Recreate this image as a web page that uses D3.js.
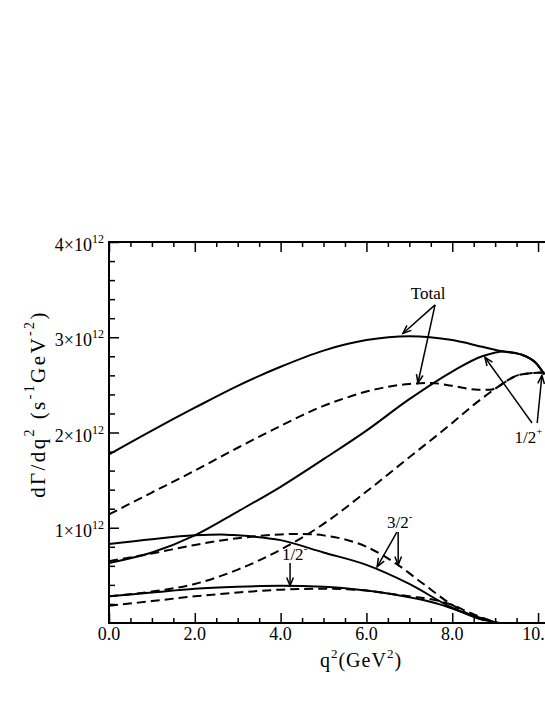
<!DOCTYPE html>
<html><head><meta charset="utf-8">
<script src="https://cdn.jsdelivr.net/npm/d3@7"></script>
<style>
body{margin:0;background:#fff}
svg{display:block}
text{font-family:"Liberation Serif","Times New Roman","DejaVu Serif",serif;fill:#000}
</style>
</head><body>
<svg id="c" width="545" height="705"></svg>
<script>
// ---- data (q^2 in GeV^2, dGamma/dq^2 in units of 1e12 s^-1 GeV^-2) ----
const totalSolid = [[0,1.77],[1,2.02],[2,2.26],[3,2.49],[4,2.69],[5,2.86],[6,2.97],[7,3.01],[8,2.97],[8.7,2.90],[9.2,2.85],[9.6,2.82],[9.95,2.73],[10.15,2.61]];
const totalDashed = [[0,1.14],[1,1.37],[2,1.60],[3,1.84],[4,2.07],[4.5,2.18],[5,2.28],[5.5,2.36],[6,2.43],[6.5,2.48],[7,2.51],[7.5,2.52],[8,2.49],[8.6,2.45],[8.9,2.45],[9.1,2.49],[9.3,2.55],[9.6,2.61],[10.15,2.63]];
const halfPlusSolid = [[0,0.63],[1,0.74],[2,0.92],[3,1.17],[4,1.43],[5,1.72],[6,2.02],[7,2.35],[8,2.64],[8.7,2.80],[9.2,2.85],[9.6,2.82],[9.95,2.73],[10.15,2.61]];
const halfPlusDashed = [[0,0.28],[1,0.33],[2,0.41],[3,0.56],[4,0.77],[5,1.04],[6,1.38],[7,1.74],[8,2.10],[8.5,2.29],[9.1,2.49],[9.3,2.55],[9.6,2.61],[10.15,2.63]];
const threeHalfSolid = [[0,0.83],[1,0.88],[2,0.92],[2.6,0.93],[3,0.92],[4,0.87],[5,0.74],[6,0.61],[7,0.41],[8,0.16],[8.6,0.05],[9.1,0]];
const threeHalfDashed = [[0,0.65],[1,0.73],[2,0.82],[3,0.89],[4,0.93],[4.5,0.935],[5,0.92],[6,0.80],[6.7,0.62],[7.3,0.42],[8,0.19],[8.6,0.05],[9.05,0]];
const halfMinusSolid = [[0,0.28],[1,0.32],[2,0.36],[3,0.38],[4,0.39],[5,0.38],[6,0.34],[6.5,0.31],[7,0.27],[7.6,0.21],[8.4,0.09],[9.05,0]];
const halfMinusDashed = [[0,0.18],[1,0.23],[2,0.28],[3,0.32],[4,0.35],[5,0.36],[6,0.34],[6.5,0.31],[7,0.28],[7.6,0.24],[8,0.19],[8.4,0.11],[9.05,0]];

const xMajor = [0,2,4,6,8,10];
const xMajorLabels = ["0.0","2.0","4.0","6.0","8.0","10.0"];
const xMinor = [0.5,1,1.5,2.5,3,3.5,4.5,5,5.5,6.5,7,7.5,8.5,9,9.5,10.5];
const yMajor = [1,2,3,4];
const yMajorLabels = ["1\u00d710","2\u00d710","3\u00d710","4\u00d710"];
const yExponent = "12";
const yMinor = [0.2,0.4,0.6,0.8,1.2,1.4,1.6,1.8,2.2,2.4,2.6,2.8,3.2,3.4,3.6,3.8];

const series = [
  {d: totalSolid, dash: false},
  {d: totalDashed, dash: true},
  {d: halfPlusSolid, dash: false},
  {d: halfPlusDashed, dash: true},
  {d: threeHalfSolid, dash: false},
  {d: threeHalfDashed, dash: true},
  {d: halfMinusSolid, dash: false},
  {d: halfMinusDashed, dash: true}
];

// annotation arrows: [fromQ, fromV, toQ, toV]
const arrows = [
  [7.60,3.34, 6.85,3.04],
  [7.60,3.34, 7.20,2.52],
  [9.86,2.10, 8.76,2.79],
  [9.98,2.10, 10.09,2.60],
  [6.71,0.955, 6.25,0.59],
  [6.74,0.955, 6.74,0.61],
  [4.22,0.63, 4.22,0.39]
];
const notes = [
  {q:7.44, v:3.40, main:"Total", sup:"", anchor:"middle"},
  {q:9.45, v:1.89, main:"1/2", sup:"+", anchor:"start"},
  {q:6.48, v:1.00, main:"3/2", sup:"-", anchor:"start"},
  {q:4.03, v:0.66, main:"1/2", sup:"-", anchor:"start"}
];

// ---- drawing ----
const svg = d3.select("#c");
const x = d3.scaleLinear().domain([0,10.5]).range([109,559.5]);
const y = d3.scaleLinear().domain([0,4]).range([623,242]);

svg.append("rect")
  .attr("x", x(0)).attr("y", y(4))
  .attr("width", x(10.5)-x(0)).attr("height", y(0)-y(4))
  .attr("fill","none").attr("stroke","#000").attr("stroke-width",2);

function styleAxis(g){
  g.select(".domain").remove();
  g.selectAll("line").attr("stroke","#000").attr("stroke-width",1.5);
}
svg.append("g").attr("transform",`translate(0,${y(0)})`)
  .call(d3.axisBottom(x).tickValues(xMajor).tickSize(-10).tickFormat("")).call(styleAxis);
svg.append("g").attr("transform",`translate(0,${y(0)})`)
  .call(d3.axisBottom(x).tickValues(xMinor).tickSize(-5).tickFormat("")).call(styleAxis);
svg.append("g").attr("transform",`translate(0,${y(4)})`)
  .call(d3.axisTop(x).tickValues(xMajor).tickSize(-10).tickFormat("")).call(styleAxis);
svg.append("g").attr("transform",`translate(0,${y(4)})`)
  .call(d3.axisTop(x).tickValues(xMinor).tickSize(-5).tickFormat("")).call(styleAxis);
svg.append("g").attr("transform",`translate(${x(0)},0)`)
  .call(d3.axisLeft(y).tickValues(yMajor).tickSize(-10).tickFormat("")).call(styleAxis);
svg.append("g").attr("transform",`translate(${x(0)},0)`)
  .call(d3.axisLeft(y).tickValues(yMinor).tickSize(-6).tickFormat("")).call(styleAxis);
svg.append("g").attr("transform",`translate(${x(10.5)},0)`)
  .call(d3.axisRight(y).tickValues(yMajor).tickSize(-10).tickFormat("")).call(styleAxis);
svg.append("g").attr("transform",`translate(${x(10.5)},0)`)
  .call(d3.axisRight(y).tickValues(yMinor).tickSize(-6).tickFormat("")).call(styleAxis);

svg.selectAll(".xl").data(xMajor).enter().append("text")
  .attr("x", d=>x(d)).attr("y", y(0)+17)
  .attr("text-anchor","middle").attr("font-size",18)
  .text((d,i)=>xMajorLabels[i]);

const yl = svg.selectAll(".yl").data(yMajor).enter().append("text")
  .attr("x", x(0)-5).attr("y", d=>y(d)+9)
  .attr("text-anchor","end").attr("font-size",18);
yl.append("tspan").text((d,i)=>yMajorLabels[i]);
yl.append("tspan").attr("font-size",12).attr("dy",-8).text(yExponent);

const line = d3.line().x(d=>x(d[0])).y(d=>y(d[1])).curve(d3.curveMonotoneX);
svg.selectAll(".curve").data(series).enter().append("path")
  .attr("d", s=>line(s.d))
  .attr("fill","none").attr("stroke","#000").attr("stroke-width",2)
  .attr("stroke-dasharray", s=>s.dash ? "9,5" : null);

arrows.forEach(a=>{
  const x1=x(a[0]), y1=y(a[1]), x2=x(a[2]), y2=y(a[3]);
  svg.append("line").attr("x1",x1).attr("y1",y1).attr("x2",x2).attr("y2",y2)
    .attr("stroke","#000").attr("stroke-width",1.5);
  const ang = Math.atan2(y2-y1, x2-x1), L=9, w=0.38;
  const p1=[x2-L*Math.cos(ang-w), y2-L*Math.sin(ang-w)];
  const p2=[x2-L*Math.cos(ang+w), y2-L*Math.sin(ang+w)];
  svg.append("path").attr("d",`M${p1}L${x2},${y2}L${p2}`)
    .attr("fill","none").attr("stroke","#000").attr("stroke-width",1.5);
});

notes.forEach(n=>{
  const t = svg.append("text").attr("x",x(n.q)).attr("y",y(n.v))
    .attr("font-size",17).attr("text-anchor",n.anchor);
  t.append("tspan").text(n.main);
  if(n.sup) t.append("tspan").attr("font-size",11).attr("dy",-8).text(n.sup);
});

const xt = svg.append("text").attr("x",361).attr("y",667)
  .attr("text-anchor","middle").attr("font-size",20).attr("letter-spacing",1);
xt.append("tspan").text("q");
xt.append("tspan").attr("font-size",13).attr("dy",-9).text("2");
xt.append("tspan").attr("dy",9).text("(GeV");
xt.append("tspan").attr("font-size",13).attr("dy",-9).text("2");
xt.append("tspan").attr("dy",9).text(")");

const yt = svg.append("text").attr("transform","translate(45,404) rotate(-90)")
  .attr("text-anchor","middle").attr("font-size",21).attr("letter-spacing",2.4);
yt.append("tspan").text("d\u0393/dq");
yt.append("tspan").attr("font-size",14).attr("dy",-11).text("2");
yt.append("tspan").attr("dy",11).text(" (s");
yt.append("tspan").attr("font-size",14).attr("dy",-11).text("-1");
yt.append("tspan").attr("dy",11).text("GeV");
yt.append("tspan").attr("font-size",14).attr("dy",-11).text("-2");
yt.append("tspan").attr("dy",11).text(")");
</script>
</body></html>
